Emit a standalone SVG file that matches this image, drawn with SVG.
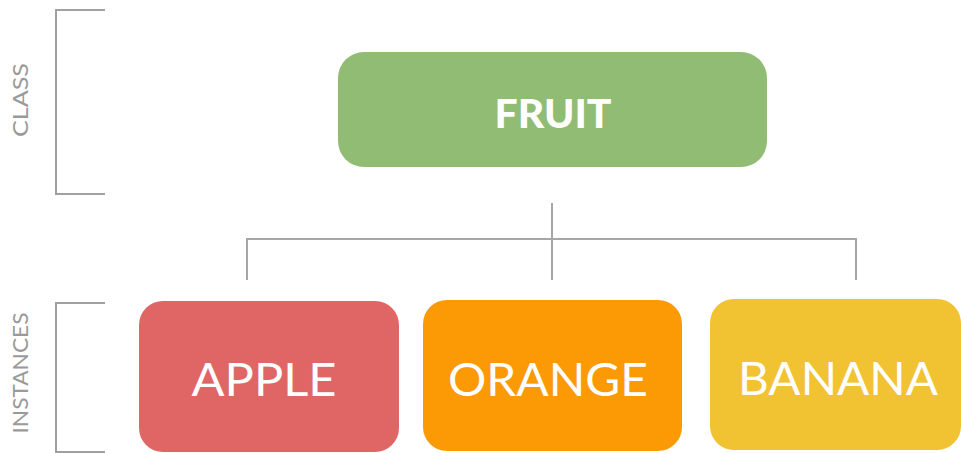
<svg xmlns="http://www.w3.org/2000/svg" width="961" height="453" viewBox="0 0 961 453">
<style>
.br{fill:none;stroke:#a0a0a0;stroke-width:2}
.cn{fill:none;stroke:#a6a6a6;stroke-width:2}
.side{font-family:Lato,"Open Sans",sans-serif;font-weight:400;font-size:21px;fill:#9a9a9a;text-anchor:middle}
.inst{font-family:Lato,"Open Sans",sans-serif;font-weight:400;font-size:46px;fill:#ffffff;text-anchor:middle}
.cls{font-family:Lato,"Open Sans",sans-serif;font-weight:900;font-size:39px;fill:#ffffff;text-anchor:middle}
</style>
<rect width="961" height="453" fill="#ffffff"/>
<g id="class-bracket">
<path class="br" d="M105,10 H56 V194 H105"/>
<text class="side" transform="translate(28,100) rotate(-90)" textLength="74" lengthAdjust="spacingAndGlyphs">CLASS</text>
</g>
<g id="instances-bracket">
<path class="br" d="M105,303 H56 V452 H105"/>
<text class="side" transform="translate(28,373) rotate(-90)" textLength="121" lengthAdjust="spacingAndGlyphs">INSTANCES</text>
</g>
<g id="fruit">
<rect x="338" y="52" width="429" height="115" rx="26" fill="#90bc73"/>
<text class="cls" x="553" y="128" textLength="117" lengthAdjust="spacingAndGlyphs">FRUIT</text>
</g>
<g id="connectors">
<path class="cn" d="M552,203 V280"/>
<path class="cn" d="M247,280 V239 H856 V280"/>
</g>
<g id="apple">
<rect x="139" y="301" width="260" height="151" rx="24" fill="#e06666"/>
<text class="inst" x="264" y="396" textLength="145" lengthAdjust="spacingAndGlyphs">APPLE</text>
</g>
<g id="orange">
<rect x="423" y="300" width="259" height="151" rx="24" fill="#fb9a05"/>
<text class="inst" x="548" y="396" textLength="200" lengthAdjust="spacingAndGlyphs">ORANGE</text>
</g>
<g id="banana">
<rect x="710" y="299" width="251" height="151" rx="24" fill="#f1c232"/>
<text class="inst" x="838" y="395" textLength="200" lengthAdjust="spacingAndGlyphs">BANANA</text>
</g>
</svg>
